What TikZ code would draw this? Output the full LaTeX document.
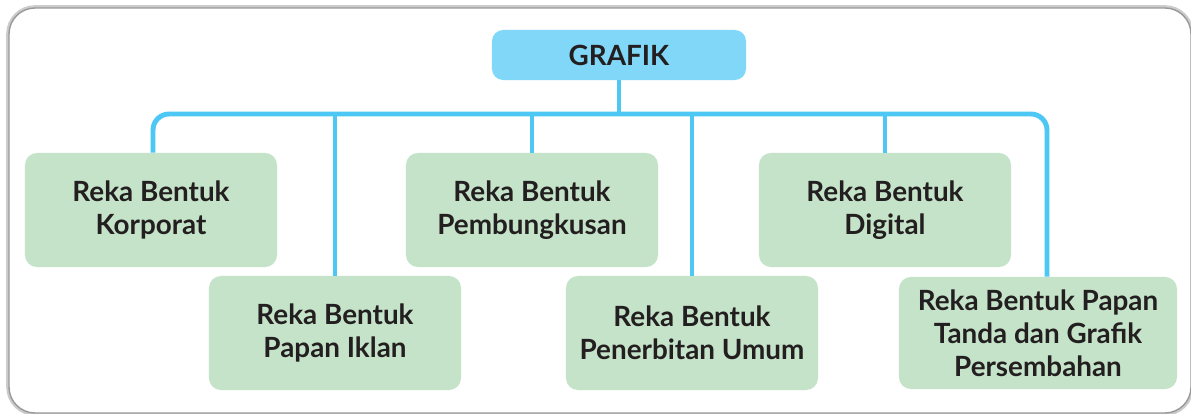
\documentclass[tikz,border=0pt]{standalone}
\usepackage{fontspec}
\setmainfont{Lato}
\usepackage{tikz}
\usetikzlibrary{positioning}
\definecolor{boxgreen}{RGB}{196, 227, 200}
\definecolor{boxblue}{RGB}{128, 215, 247}
\definecolor{lineblue}{RGB}{77, 200, 244}
\definecolor{textdark}{RGB}{35, 31, 32}

\begin{document}
\begin{tikzpicture}[
    x=0.025cm, y=-0.025cm,
    topblock/.style={rectangle, fill=boxblue, rounded corners=0.28cm, align=center, minimum height=1.25cm, minimum width=6.35cm, text=textdark, font=\fontsize{19.8}{23.4}\selectfont\bfseries},
    block/.style={rectangle, fill=boxgreen, rounded corners=0.3cm, align=center, minimum height=2.85cm, minimum width=6.3cm, text=textdark, font=\fontsize{19.8}{23.4}\selectfont\bfseries},
    link/.style={draw=lineblue, line width=3.5pt, rounded corners=0.4cm}
]
    \useasboundingbox (0,0) rectangle (1191,414);
    % outer frame
    \draw[black!20, line width=4pt, rounded corners=0.65cm] (9,8) rectangle (1191,413);
    \draw[black!40, line width=1pt, fill=white, rounded corners=0.65cm] (9,8) rectangle (1191,413);

    \node[topblock] (grafik) at (619,55) {GRAFIK};

    \node[block] (korporat) at (151,210) {Reka Bentuk\\Korporat};
    \node[block] (pembungkusan) at (532,210) {Reka Bentuk\\Pembungkusan};
    \node[block] (digital) at (885,210) {Reka Bentuk\\Digital};
    \node[block] (iklan) at (335,333) {Reka Bentuk\\Papan Iklan};
    \node[block] (penerbitan) at (692,333) {Reka Bentuk\\Penerbitan Umum};
    \node[block, minimum width=6.95cm, minimum height=2.8cm] (persembahan) at (1038,333) {Reka Bentuk Papan\\Tanda dan Grafik\\Persembahan};

    \coordinate (busL) at (153,114);
    \coordinate (busR) at (1047,114);

    \draw[link] (busL |- korporat.north) -- (busL) -- (busR) -- (busR |- persembahan.north);
    \draw[link] (grafik.south) -- (grafik.south |- busL);
    \draw[link] (iklan.north) -- (iklan.north |- busL);
    \draw[link] (pembungkusan.north) -- (pembungkusan.north |- busL);
    \draw[link] (penerbitan.north) -- (penerbitan.north |- busL);
    \draw[link] (digital.north) -- (digital.north |- busL);
\end{tikzpicture}
\end{document}
